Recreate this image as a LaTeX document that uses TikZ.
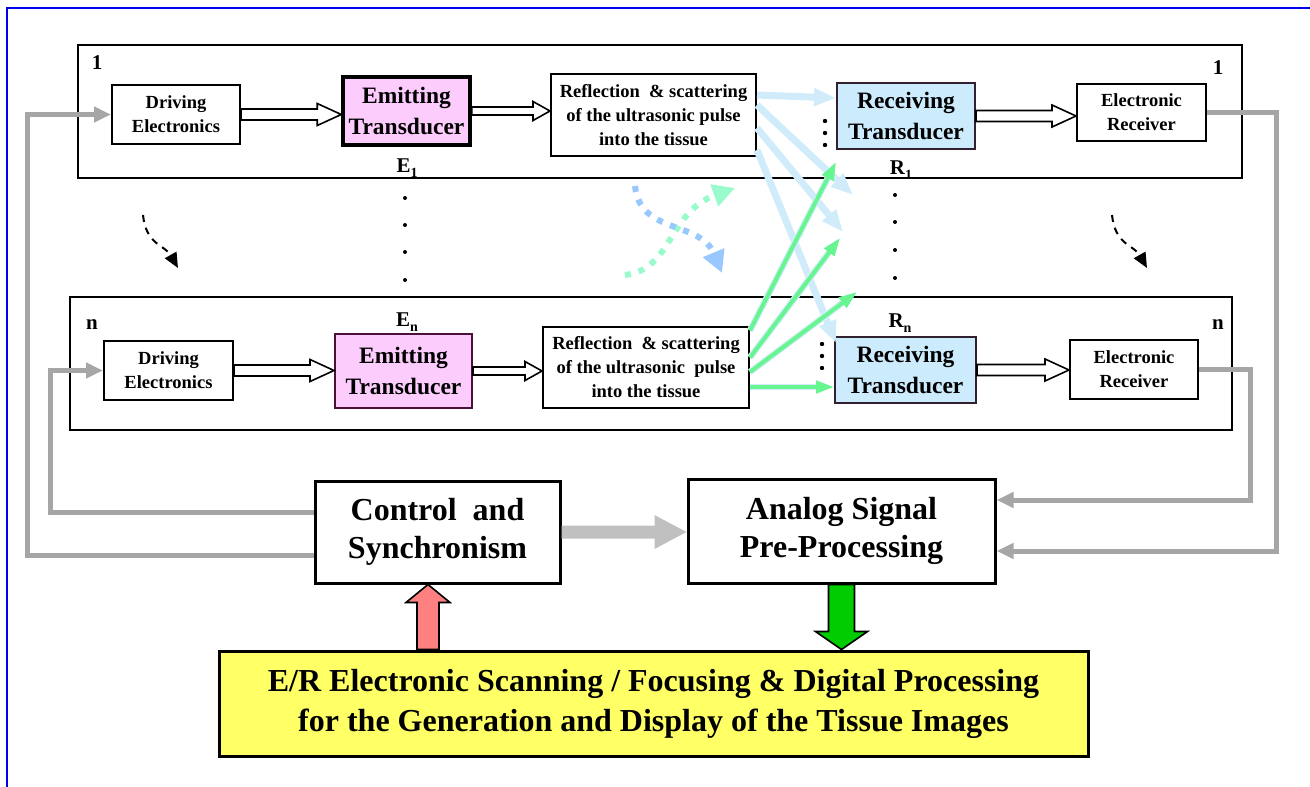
\documentclass[tikz,border=0pt]{standalone}
\usepackage{fontspec}
\setmainfont{Liberation Serif}
\usepackage{tikz}
\usetikzlibrary{arrows.meta,calc}
\definecolor{frameBlue}{HTML}{0000EE}
\definecolor{emitPink}{HTML}{FCCCFC}
\definecolor{recvBlue}{HTML}{CCEBFC}
\definecolor{emitEdge}{HTML}{4A1038}
\definecolor{recvEdge}{HTML}{33202E}
\definecolor{busGray}{HTML}{A6A6A6}
\definecolor{flowGray}{HTML}{C0C0C0}
\definecolor{rayBlue}{HTML}{D0ECFA}
\definecolor{rayGreen}{HTML}{66F58F}
\definecolor{dotBlue}{HTML}{99C8FF}
\definecolor{dotGreen}{HTML}{99FACC}
\definecolor{scanYellow}{HTML}{FFFF66}
\definecolor{upRed}{HTML}{FF8080}
\definecolor{downGreen}{HTML}{00CC00}

% horizontal block arrow: [style]{from}{to}{half shaft}{half head}{head length}
\newcommand{\harrow}[6][draw=black,line width=1.6pt,fill=white]{%
  \path[#1] let \p1=(#2), \p2=(#3) in
    ({\x1},{\y1+#4}) -- ({\x2-#6},{\y1+#4}) -- ({\x2-#6},{\y1+#5}) -- ({\x2},{\y1})
    -- ({\x2-#6},{\y1-#5}) -- ({\x2-#6},{\y1-#4}) -- ({\x1},{\y1-#4}) -- cycle;}
% vertical block arrow: {fill}{from}{tip}{half shaft}{half head}{head length, up > 0}
\newcommand{\varrow}[6]{%
  \filldraw[line width=1.6pt,fill=#1] let \p1=(#2), \p2=(#3) in
    ({\x2-#4},{\y1}) -- ({\x2-#4},{\y2-#6}) -- ({\x2-#5},{\y2-#6}) -- ({\x2},{\y2})
    -- ({\x2+#5},{\y2-#6}) -- ({\x2+#4},{\y2-#6}) -- ({\x2+#4},{\y1}) -- cycle;}

\begin{document}
\begin{tikzpicture}[x=1pt,y=-1pt,
  blk/.style={draw,line width=2pt,fill=white,align=center,inner sep=0pt,
    font=\fontsize{18.5}{24}\selectfont\bfseries},
  grp/.style={draw,line width=2.4pt},
  xdcr/.style={line width=2pt,align=center,inner sep=0pt,
    font=\fontsize{23.5}{31}\selectfont\bfseries},
  big/.style={draw,line width=3pt,fill=white,align=center,inner sep=0pt,
    font=\fontsize{32}{38}\selectfont\bfseries},
  tag/.style={inner sep=0pt,font=\fontsize{21}{24}\selectfont\bfseries},
  bus/.style={draw=busGray,line width=5pt,-{Triangle[length=17pt,width=15pt]}},
  ray/.style={draw=rayBlue,line width=7pt,-{Triangle[length=22pt,width=17pt]}},
  beam/.style={draw=rayGreen,line width=4pt,-{Triangle[length=18pt,width=12pt]},
    preaction={draw=rayBlue,line width=6.5pt}},
  swirl/.style={line width=6pt,dash pattern=on 6pt off 8pt,
    -{Triangle[length=22pt,width=22pt]}},
  hop/.style={draw,line width=2pt,dash pattern=on 7pt off 6pt,
    -{Triangle[length=15pt,width=13pt]}}]
  \useasboundingbox (0,0) rectangle (1310,787);
  \draw[frameBlue,line width=2pt] (7,787) -- (7,8) -- (1310,8);

  % channel 1
  \node[grp,minimum width=1164pt,minimum height=133pt] (grp1) at (660,111.5) {};
  \node[blk,minimum width=128pt,minimum height=59pt] (drv1) at (176,114.5) {Driving\\Electronics};
  \node[xdcr,draw,line width=3.5pt,fill=emitPink,minimum width=127pt,minimum height=68pt] (emt1) at (406.5,111) {Emitting\\Transducer};
  \node[blk,minimum width=205pt,minimum height=82pt] (rfl1) at (653.5,115) {Reflection\ \ \& scattering\\of the ultrasonic pulse\\into the tissue};
  \node[xdcr,draw=recvEdge,fill=recvBlue,minimum width=138pt,minimum height=66pt] (rcv1) at (906,116) {Receiving\\Transducer};
  \node[blk,minimum width=129pt,minimum height=57pt] (erx1) at (1141.5,112.5) {Electronic\\Receiver};
  \node[tag] (num1a) at (97,63) {1};
  \node[tag] (num1b) at (1218,68) {1};
  \node[tag] (e1) at (407,168) {E\raisebox{-5pt}{\fontsize{14}{14}\selectfont 1}};
  \node[tag] (r1) at (901,170) {R\raisebox{-5pt}{\fontsize{14}{14}\selectfont 1}};

  % channel n
  \node[grp,minimum width=1162pt,minimum height=133pt] (grpn) at (651,363.5) {};
  \node[blk,minimum width=129pt,minimum height=59pt] (drvn) at (168.5,370.5) {Driving\\Electronics};
  \node[xdcr,draw=emitEdge,fill=emitPink,minimum width=137pt,minimum height=74pt] (emtn) at (403.5,371) {Emitting\\Transducer};
  \node[blk,minimum width=206pt,minimum height=81pt] (rfln) at (646,367.5) {Reflection\ \ \& scattering\\of the ultrasonic\ \ pulse\\into the tissue};
  \node[xdcr,draw=recvEdge,fill=recvBlue,minimum width=141pt,minimum height=66pt] (rcvn) at (905.5,370) {Receiving\\Transducer};
  \node[blk,minimum width=128pt,minimum height=59pt] (erxn) at (1134,369.5) {Electronic\\Receiver};
  \node[tag] (numna) at (92,325) {n};
  \node[tag] (numnb) at (1218,325) {n};
  \node[tag] (en) at (407,322) {E\raisebox{-5pt}{\fontsize{14}{14}\selectfont n}};
  \node[tag] (rn) at (900,323) {R\raisebox{-5pt}{\fontsize{14}{14}\selectfont n}};

  % processing blocks
  \node[big,minimum width=245pt,minimum height=102pt] (ctrl) at (437.5,532) {Control\ \ and\\Synchronism};
  \node[big,minimum width=307pt,minimum height=104pt] (asp) at (841.5,531) {Analog Signal\\Pre-Processing};
  \node[big,fill=scanYellow,minimum width=869pt,minimum height=105pt,font=\fontsize{32}{40}\selectfont\bfseries] (scan) at (653.5,703.5)
    {E/R Electronic Scanning / Focusing \& Digital Processing\\for the Generation and Display of the Tissue Images};

  % hollow arrows along each channel
  \harrow{drv1.east}{emt1.west}{5.5pt}{11pt}{24pt}
  \harrow{emt1.east}{rfl1.west}{4pt}{9.5pt}{17pt}
  \harrow{rcv1.east}{erx1.west}{5.5pt}{11pt}{24pt}
  \harrow{drvn.east}{emtn.west}{5.5pt}{11pt}{24pt}
  \harrow{emtn.east}{rfln.west}{4pt}{9.5pt}{17pt}
  \harrow{rcvn.east}{erxn.west}{5.5pt}{11pt}{24pt}

  % scattered echoes
  \coordinate (rayA) at (853,195);
  \coordinate (rayB) at (843,232);
  \coordinate (beamB) at (840,238);
  \coordinate (beamC) at (857,292);
  \draw[ray] ([yshift=20pt]rfl1.east) -- ([yshift=18pt]rcv1.west);
  \draw[ray] ([yshift=10pt]rfl1.east) -- (rayA);
  \draw[ray] ([yshift=-13pt]rfl1.east) -- (rayB);
  \draw[ray] ([yshift=-35pt]rfl1.east) -- ([xshift=2pt,yshift=-7pt]rcvn.north west);
  \draw[beam] ([yshift=37pt]rfln.east) -- ([yshift=-12pt]rcv1.south west);
  \draw[beam] ([yshift=10pt]rfln.east) -- (beamB);
  \draw[beam] ([yshift=-4.5pt]rfln.east) -- (beamC);
  \draw[beam] ([yshift=-19.5pt]rfln.east) -- ([yshift=-17pt]rcvn.west);

  \draw[swirl,dotGreen] (625,275) .. controls (672,270) and (668,212) .. (735,188);
  \draw[swirl,dotBlue] (635,186) .. controls (640,235) and (700,220) .. (722,273);

  % elements in between
  \foreach \yy in {198,225,252,280} \fill (405,\yy) circle (2pt);
  \foreach \yy in {195,222,250,278} \fill (895,\yy) circle (2pt);
  \foreach \yy in {121,133,145} \fill (825,\yy) circle (2.2pt);
  \foreach \yy in {344,356,368} \fill (822,\yy) circle (2.2pt);
  \draw[hop] (143,215) .. controls (146,245) and (165,245) .. (178,268);
  \draw[hop] (1112,215) .. controls (1115,245) and (1134,245) .. (1147,268);

  % control and signal buses
  \coordinate (busL1) at (27,0);
  \coordinate (busL2) at (50,0);
  \coordinate (busR1) at (1276,0);
  \coordinate (busR2) at (1250,0);
  \coordinate (ctlout1) at ([yshift=-23pt]ctrl.west);
  \coordinate (ctlout2) at ([yshift=20pt]ctrl.west);
  \coordinate (aspin1) at ([yshift=-20pt]asp.east);
  \coordinate (aspin2) at ([yshift=31pt]asp.east);
  \draw[bus] (ctlout1) -| (busL1 |- drv1.west) -- (drv1.west);
  \draw[bus] (ctlout2) -| (busL2 |- drvn.west) -- (drvn.west);
  \draw[bus] (erx1.east) -| (busR1 |- aspin1) -- (aspin1);
  \draw[bus] (erxn.east) -| (busR2 |- aspin2) -- (aspin2);
  \harrow[fill=flowGray]{ctrl.east}{asp.west}{6.5pt}{17pt}{32pt}

  \coordinate (redtip) at ([xshift=-9.5pt]ctrl.south);
  \coordinate (greentip) at (scan.north -| asp.south);
  \varrow{upRed}{scan.north}{redtip}{11pt}{22pt}{18pt}
  \varrow{downGreen}{asp.south}{greentip}{13pt}{26pt}{-18pt}
\end{tikzpicture}
\end{document}
